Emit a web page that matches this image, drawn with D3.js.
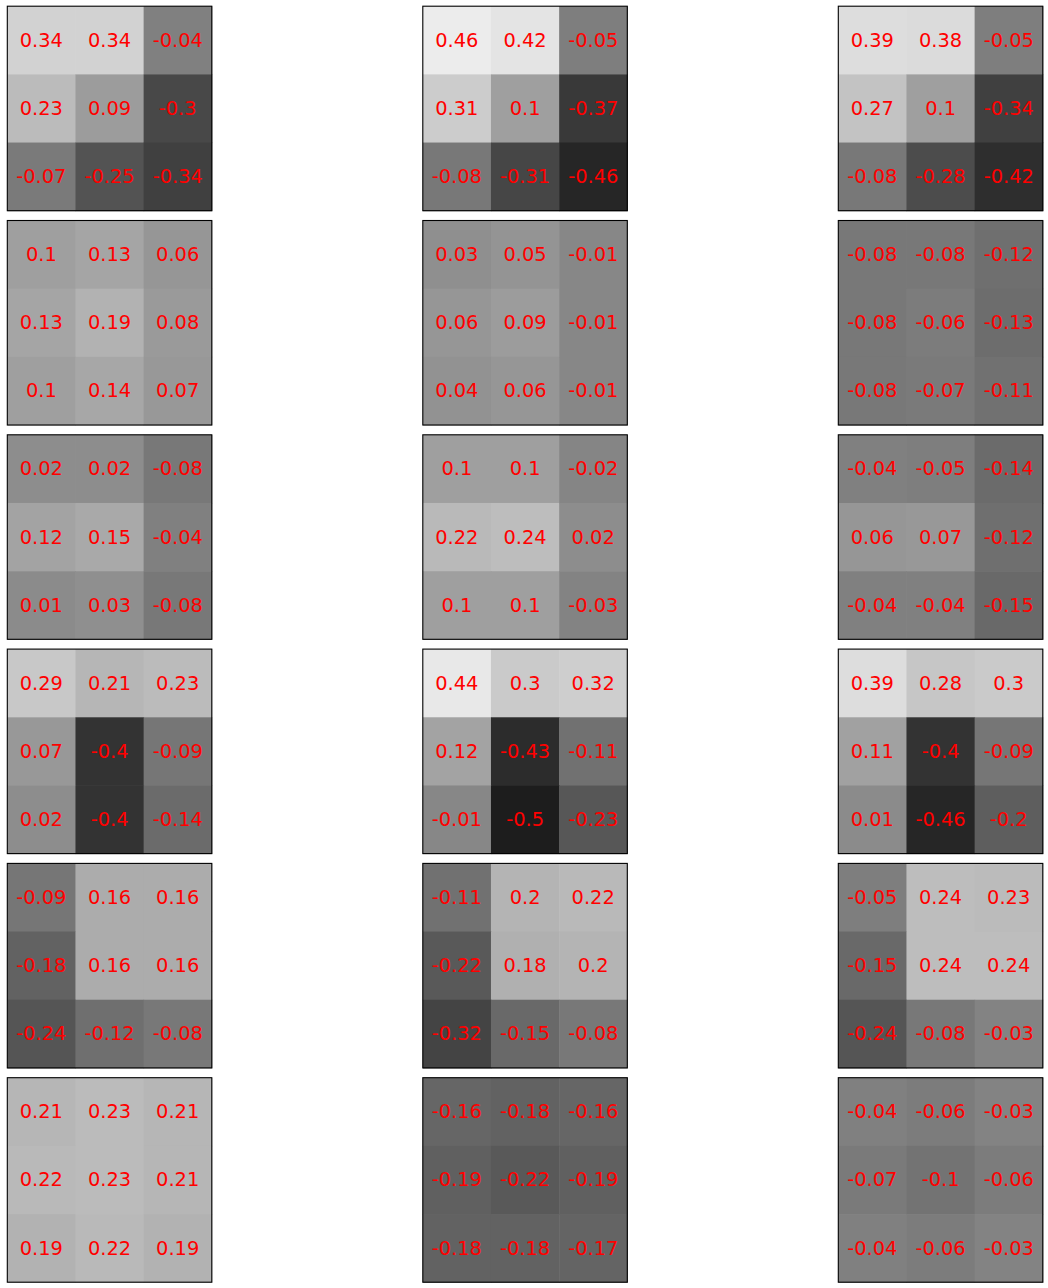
<!DOCTYPE html>
<html>
<head>
<meta charset="utf-8">
<script src="https://cdn.jsdelivr.net/npm/d3@7"></script>
<style>
  body { margin: 0; background: #fff; }
  svg { display: block; }
</style>
</head>
<body>
<div id="chart"></div>
<script>
(function () {
    var width = 1048, height = 1288;

    // 3x3 matrices, one per panel, row by row (6 rows x 3 columns of panels)
    var row1 = [
        [[0.34, 0.34, -0.04], [0.23, 0.09, -0.3], [-0.07, -0.25, -0.34]],
        [[0.46, 0.42, -0.05], [0.31, 0.1, -0.37], [-0.08, -0.31, -0.46]],
        [[0.39, 0.38, -0.05], [0.27, 0.1, -0.34], [-0.08, -0.28, -0.42]]
    ];
    var row2 = [
        [[0.1, 0.13, 0.06], [0.13, 0.19, 0.08], [0.1, 0.14, 0.07]],
        [[0.03, 0.05, -0.01], [0.06, 0.09, -0.01], [0.04, 0.06, -0.01]],
        [[-0.08, -0.08, -0.12], [-0.08, -0.06, -0.13], [-0.08, -0.07, -0.11]]
    ];
    var row3 = [
        [[0.02, 0.02, -0.08], [0.12, 0.15, -0.04], [0.01, 0.03, -0.08]],
        [[0.1, 0.1, -0.02], [0.22, 0.24, 0.02], [0.1, 0.1, -0.03]],
        [[-0.04, -0.05, -0.14], [0.06, 0.07, -0.12], [-0.04, -0.04, -0.15]]
    ];
    var row4 = [
        [[0.29, 0.21, 0.23], [0.07, -0.4, -0.09], [0.02, -0.4, -0.14]],
        [[0.44, 0.3, 0.32], [0.12, -0.43, -0.11], [-0.01, -0.5, -0.23]],
        [[0.39, 0.28, 0.3], [0.11, -0.4, -0.09], [0.01, -0.46, -0.2]]
    ];
    var row5 = [
        [[-0.09, 0.16, 0.16], [-0.18, 0.16, 0.16], [-0.24, -0.12, -0.08]],
        [[-0.11, 0.2, 0.22], [-0.22, 0.18, 0.2], [-0.32, -0.15, -0.08]],
        [[-0.05, 0.24, 0.23], [-0.15, 0.24, 0.24], [-0.24, -0.08, -0.03]]
    ];
    var row6 = [
        [[0.21, 0.23, 0.21], [0.22, 0.23, 0.21], [0.19, 0.22, 0.19]],
        [[-0.16, -0.18, -0.16], [-0.19, -0.22, -0.19], [-0.18, -0.18, -0.17]],
        [[-0.04, -0.06, -0.03], [-0.07, -0.1, -0.06], [-0.04, -0.06, -0.03]]
    ];
    var panelRows = [row1, row2, row3, row4, row5, row6];

    var panelSize = 204.5;
    var colX = d3.scaleLinear().domain([0, 2]).range([7.3, 838.3]);
    var rowY = d3.scaleLinear().domain([0, 5]).range([6.2, 1077.7]);
    var cell = d3.scaleBand().domain([0, 1, 2]).range([0, panelSize]);

    // gray colormap, shared limits across all panels
    var color = d3.scaleLinear()
        .domain([-0.634, 0.546])
        .range(["#000000", "#ffffff"])
        .clamp(true);

    var svg = d3.select("#chart")
        .append("svg")
        .attr("width", width)
        .attr("height", height);

    var panels = [];
    panelRows.forEach(function (row, r) {
        row.forEach(function (m, c) {
            panels.push({ r: r, c: c, m: m });
        });
    });

    var g = svg.selectAll(".panel")
        .data(panels)
        .enter().append("g")
        .attr("class", "panel")
        .attr("transform", function (d) {
            return "translate(" + colX(d.c) + "," + rowY(d.r) + ")";
        });

    var cells = g.selectAll(".cell")
        .data(function (d) {
            var out = [];
            d.m.forEach(function (vals, i) {
                vals.forEach(function (v, j) {
                    out.push({ i: i, j: j, v: v });
                });
            });
            return out;
        })
        .enter().append("g")
        .attr("class", "cell");

    cells.append("rect")
        .attr("x", function (d) { return cell(d.j); })
        .attr("y", function (d) { return cell(d.i); })
        .attr("width", cell.bandwidth() + 0.5)
        .attr("height", cell.bandwidth() + 0.5)
        .attr("fill", function (d) { return color(d.v); });

    cells.append("text")
        .attr("x", function (d) { return cell(d.j) + cell.bandwidth() / 2; })
        .attr("y", function (d) { return cell(d.i) + cell.bandwidth() / 2; })
        .attr("text-anchor", "middle")
        .attr("dominant-baseline", "central")
        .attr("font-family", "DejaVu Sans")
        .attr("font-size", "19.4px")
        .attr("fill", "#ff0000")
        .text(function (d) { return d.v; });

    g.append("rect")
        .attr("width", panelSize)
        .attr("height", panelSize)
        .attr("fill", "none")
        .attr("stroke", "#000")
        .attr("stroke-width", 1.1);
})();
</script>
</body>
</html>
